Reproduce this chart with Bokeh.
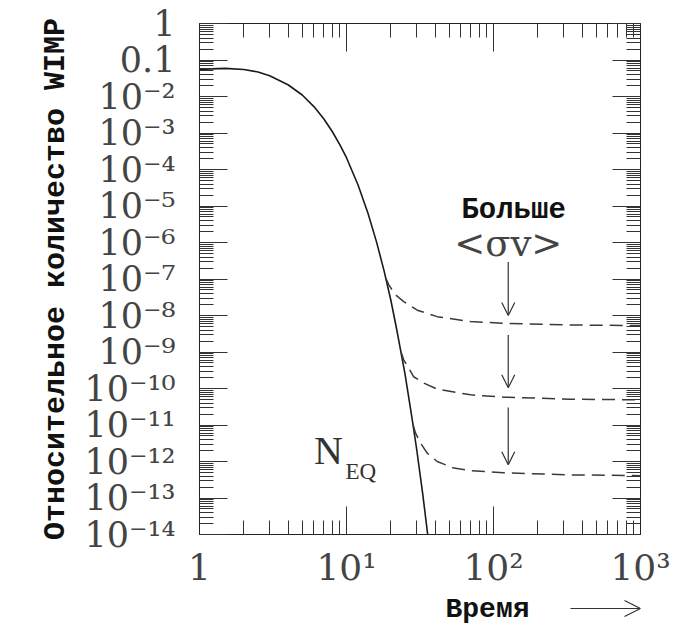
from bokeh.plotting import figure
from bokeh.layouts import column
from bokeh.models import (Range1d, FixedTicker, LogAxis, Label, Arrow, OpenHead,
                          ColumnDataSource, CustomJSTickFormatter)
from bokeh.embed import file_html
from bokeh.resources import INLINE

# ---- data ----
# equilibrium abundance N_EQ (solid curve)
eq_x = [1, 1.2, 1.5, 2, 2.5, 3, 4, 5, 6, 7, 8, 9, 10, 12, 14, 16, 18, 20, 22, 25, 28, 30, 33, 36]
eq_y = [0.055, 0.057, 0.059, 0.055, 0.047, 0.037, 0.021, 0.011, 5.3e-3, 2.45e-3, 1.1e-3, 4.8e-4,
        2.1e-4, 3.7e-5, 6.3e-6, 1.04e-6, 1.7e-7, 2.7e-8, 4.0e-9, 2.5e-10, 1.4e-11, 2.2e-12,
        1.3e-13, 7.3e-15]

# freeze-out curves (dashed), larger <sigma v> -> lower relic abundance
fo1_x = [18.5, 19.4, 21.5, 24.5, 30.3, 41.4, 69.8, 117, 334, 1000]
fo1_y = [1.06e-7, 6.9e-8, 3.7e-8, 2.4e-8, 1.4e-8, 9.3e-9, 6.8e-9, 6.1e-9, 5.5e-9, 5.3e-9]
fo2_x = [23.5, 24.5, 26.5, 28.6, 33.6, 41.4, 69.8, 117, 334, 1000]
fo2_y = [1.0e-9, 6.1e-10, 3.6e-10, 2.1e-10, 1.4e-10, 9.6e-11, 6.7e-11, 5.8e-11, 5.1e-11, 4.9e-11]
fo3_x = [28.5, 29.5, 31.9, 35.4, 41.4, 53.7, 69.8, 117, 334, 1000]
fo3_y = [9.5e-12, 6.0e-12, 3.2e-12, 1.7e-12, 1.0e-12, 6.6e-13, 5.6e-13, 4.9e-13, 4.3e-13, 4.1e-13]

# downward arrows "larger <sigma v>"
arrow_x = [126, 126, 126]
arrow_from = [2.9e-7, 2.9e-9, 3.0e-11]
arrow_to = [1.0e-8, 1.05e-10, 8.2e-13]

# ticks and tick labels
x_ticks = [1, 10, 100, 1000]
x_tick_labels = ["1", "10\u00b9", "10\u00b2", "10\u00b3"]
y_ticks = [1, 0.1, 1e-2, 1e-3, 1e-4, 1e-5, 1e-6, 1e-7, 1e-8, 1e-9, 1e-10, 1e-11, 1e-12, 1e-13, 1e-14]
y_tick_labels = ["1", "0.1", "10\u207b\u00b2", "10\u207b\u00b3", "10\u207b\u2074", "10\u207b\u2075",
                 "10\u207b\u2076", "10\u207b\u2077", "10\u207b\u2078", "10\u207b\u2079",
                 "10\u207b\u00b9\u2070", "10\u207b\u00b9\u00b9", "10\u207b\u00b9\u00b2",
                 "10\u207b\u00b9\u00b3", "10\u207b\u00b9\u2074"]

y_title = "Относительное количество WIMP"
x_title = "Время"
arrow_text = "Больше"
sigma_text = "<σv>"

# ---- main figure ----
p = figure(width=677, height=590, x_axis_type="log", y_axis_type="log",
           x_range=Range1d(1, 1000), y_range=Range1d(1e-14, 1),
           output_backend="svg", toolbar_location=None,
           min_border_left=199, min_border_right=37, min_border_top=23, min_border_bottom=55)
p.grid.visible = False
p.outline_line_color = "#222222"
p.background_fill_color = "white"
p.border_fill_color = "white"

x_minor = [m * t for t in x_ticks[:-1] for m in range(2, 10)]
y_minor = [m * t for t in y_ticks[1:] for m in range(2, 10)]
xticker = FixedTicker(ticks=x_ticks, minor_ticks=x_minor)
yticker = FixedTicker(ticks=y_ticks, minor_ticks=y_minor)

label_font = "DejaVu Serif"
tick_col = "#333333"


def style_axis(ax, ticker):
    ax.ticker = ticker
    ax.major_tick_in = 28
    ax.major_tick_out = 0
    ax.minor_tick_in = 14
    ax.minor_tick_out = 0
    ax.major_tick_line_color = tick_col
    ax.minor_tick_line_color = tick_col
    ax.axis_line_color = "#222222"


xa = p.xaxis[0]
style_axis(xa, xticker)
xa.major_label_overrides = dict(zip(x_ticks, x_tick_labels))
xa.major_label_text_font = label_font
xa.major_label_text_font_size = "36px"
xa.major_label_text_color = "#444444"
xa.major_label_standoff = 12

ya = p.yaxis[0]
style_axis(ya, yticker)
ya.major_label_overrides = dict(zip(y_ticks, y_tick_labels))
ya.major_label_text_font = label_font
ya.major_label_text_font_size = "35px"
ya.major_label_text_color = "#444444"
ya.major_label_standoff = 24
ya.axis_label = y_title
ya.axis_label_text_font = "Liberation Mono"
ya.axis_label_text_font_style = "bold"
ya.axis_label_text_font_size = "30px"
ya.axis_label_text_color = "#111111"
ya.axis_label_standoff = 8

blank = CustomJSTickFormatter(code="return ''")
for loc, ticker in (("right", yticker), ("above", xticker)):
    ax = LogAxis(formatter=blank)
    style_axis(ax, ticker)
    ax.major_label_text_font_size = "1px"
    ax.major_label_standoff = 0
    p.add_layout(ax, loc)

# ---- curves ----
p.line(eq_x, eq_y, line_color="#1a1a1a", line_width=1.6)
for fx, fy in ((fo1_x, fo1_y), (fo2_x, fo2_y), (fo3_x, fo3_y)):
    p.line(fx, fy, line_color="#3a3a3a", line_width=1.5, line_dash="13 7")

arr_src = ColumnDataSource(dict(x=arrow_x, y0=arrow_from, y1=arrow_to))
p.add_layout(Arrow(source=arr_src, x_start="x", y_start="y0", x_end="x", y_end="y1",
                   line_color="#333333", line_width=1.2,
                   end=OpenHead(size=13, line_color="#333333", line_width=1.2)))

# ---- texts ----
p.add_layout(Label(x=137, y=7.7e-6, text=arrow_text, text_align="center",
                   text_baseline="alphabetic", text_font="Liberation Mono",
                   text_font_style="bold", text_font_size="29px", text_color="#111111"))
p.add_layout(Label(x=126, y=9.6e-7, text=sigma_text, text_align="center",
                   text_baseline="alphabetic", text_font="DejaVu Serif",
                   text_font_size="37px", text_color="#444444"))
p.add_layout(Label(x=6.0, y=2.0e-12, text="N", text_align="left",
                   text_baseline="alphabetic", text_font="Liberation Serif",
                   text_font_size="40px", text_color="#333333"))
p.add_layout(Label(x=9.85, y=5.3e-13, text="EQ", text_align="left",
                   text_baseline="alphabetic", text_font="Liberation Serif",
                   text_font_size="23px", text_color="#333333"))

# ---- strip under the axis: x title with arrow ----
p2 = figure(width=677, height=34, x_axis_type="log", x_range=p.x_range, y_range=Range1d(0, 1),
            output_backend="svg", toolbar_location=None,
            x_axis_location=None, y_axis_location=None,
            min_border_left=199, min_border_right=37, min_border_top=0, min_border_bottom=0)
p2.grid.visible = False
p2.outline_line_color = None
p2.background_fill_color = "white"
p2.border_fill_color = "white"
p2.add_layout(Label(x=91, y=0.44, text=x_title, text_align="center",
                    text_baseline="alphabetic", text_font="Liberation Mono",
                    text_font_style="bold", text_font_size="28px", text_color="#111111"))
p2.add_layout(Arrow(x_start=334, y_start=0.47, x_end=1000, y_end=0.47,
                    line_color="#333333", line_width=1.2,
                    end=OpenHead(size=16, line_color="#333333", line_width=1.2)))

open("out.html", "w").write(file_html(column(p, p2), INLINE))
